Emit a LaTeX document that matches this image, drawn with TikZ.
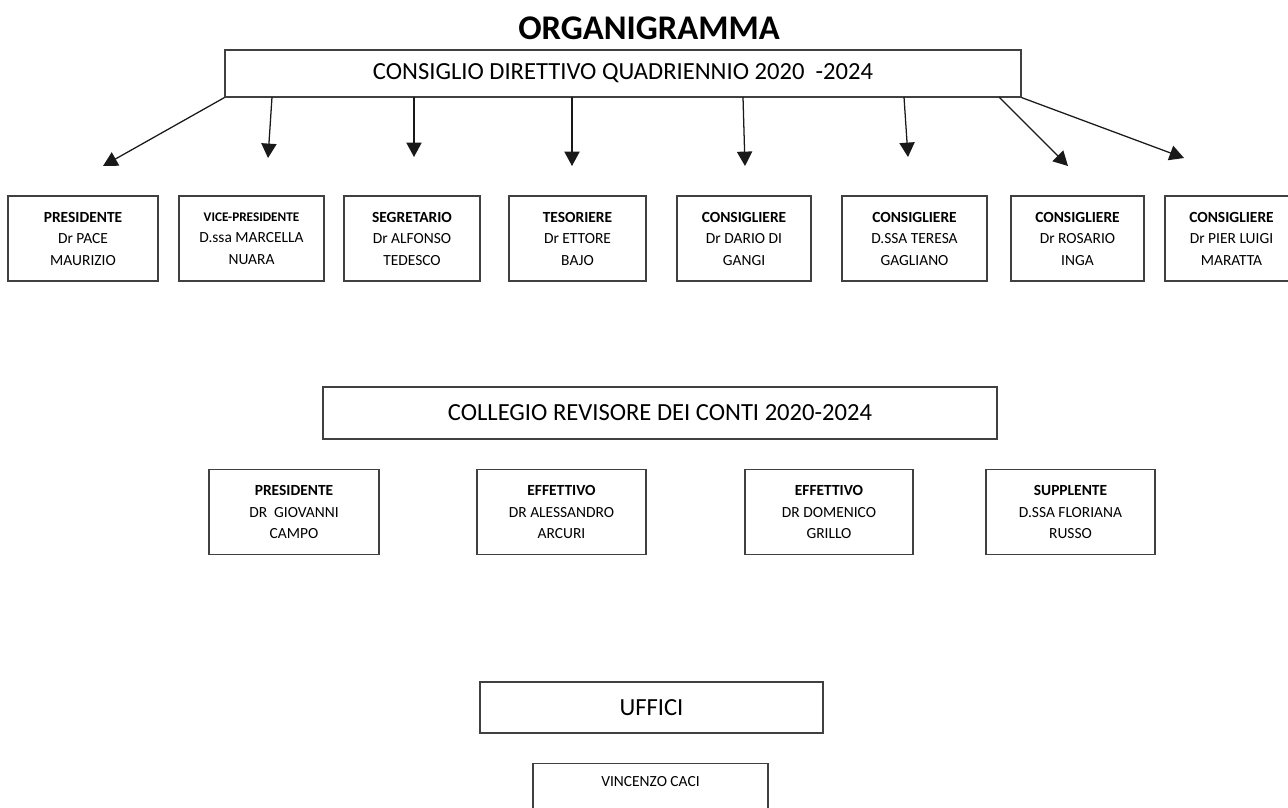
\documentclass[tikz,border=0pt]{standalone}
\usepackage{fontspec}
\setmainfont{Carlito}
\usetikzlibrary{arrows.meta}

\begin{document}
\begin{tikzpicture}
        [
            header/.style = {draw=black!75, shape=rectangle, line width=0.8pt, inner sep=0pt, minimum height=1.3cm, font=\fontsize{17.5}{21}\selectfont},
            member/.style = {draw=black!75, shape=rectangle, line width=0.8pt, inner sep=0pt, minimum height=2.125cm, align=center, font=\fontsize{11}{15.3}\selectfont},
            freccia/.style = {-{Triangle[length=0.36cm,width=0.38cm]}, line width=0.9pt, color=black!90},
        ]

        \useasboundingbox (0,0) rectangle (32.2,-20.2);
        \clip (0,0) rectangle (32.2,-20.2);

        \node[font=\bfseries\fontsize{24.6}{29}\selectfont] (titolo) at (16.225,-0.7) {ORGANIGRAMMA};

        \node[header, minimum width=19.9cm, minimum height=1.175cm] (cd) at (15.575,-1.8375) {\raisebox{-2pt}{CONSIGLIO DIRETTIVO QUADRIENNIO 2020~ -2024}};

        \node[member, minimum width=3.75cm] (cd1) at (2.075,-5.9625)    {\textbf{PRESIDENTE}\\Dr PACE\\MAURIZIO};
        \node[member, minimum width=3.625cm] (cd2) at (6.2875,-5.9625)  {{\fontsize{9.4}{12}\selectfont\textbf{VICE-PRESIDENTE}}\\D.ssa MARCELLA\\NUARA};
        \node[member, minimum width=3.4cm] (cd3) at (10.3,-5.9625)      {\textbf{SEGRETARIO}\\Dr ALFONSO\\TEDESCO};
        \node[member, minimum width=3.425cm] (cd4) at (14.4375,-5.9625) {\textbf{TESORIERE}\\Dr ETTORE\\BAJO};
        \node[member, minimum width=3.35cm] (cd5) at (18.6,-5.9625)     {\textbf{CONSIGLIERE}\\Dr DARIO DI\\GANGI};
        \node[member, minimum width=3.625cm] (cd6) at (22.8625,-5.9625) {\textbf{CONSIGLIERE}\\D.SSA TERESA\\GAGLIANO};
        \node[member, minimum width=3.325cm] (cd7) at (26.9375,-5.9625) {\textbf{CONSIGLIERE}\\Dr ROSARIO\\INGA};
        \node[member, minimum width=3.325cm] (cd8) at (30.7875,-5.9625) {\textbf{CONSIGLIERE}\\Dr PIER LUIGI\\MARATTA};

        \coordinate (a2) at (6.8,-2.425);
        \coordinate (a3) at (10.35,-2.425);
        \coordinate (a4) at (14.3,-2.425);
        \coordinate (a5) at (18.575,-2.425);
        \coordinate (a6) at (22.6,-2.425);
        \coordinate (a7) at (24.975,-2.425);

        \coordinate (t1) at (2.575,-4.15);
        \coordinate (t2) at (6.7,-3.95);
        \coordinate (t3) at (10.35,-3.925);
        \coordinate (t4) at (14.3,-4.15);
        \coordinate (t5) at (18.625,-4.15);
        \coordinate (t6) at (22.7,-3.925);
        \coordinate (t7) at (26.7,-4.15);
        \coordinate (t8) at (29.6,-3.95);

        \draw [freccia] (cd.south west) -- (t1);
        \draw [freccia] (a2) -- (t2);
        \draw [freccia] (a3) -- (t3);
        \draw [freccia] (a4) -- (t4);
        \draw [freccia] (a5) -- (t5);
        \draw [freccia] (a6) -- (t6);
        \draw [freccia] (a7) -- (t7);
        \draw [freccia] (cd.south east) -- (t8);

        \node[header, minimum width=16.85cm] (cr) at (16.5,-10.325) {COLLEGIO REVISORE DEI CONTI 2020-2024};

        \node[member, minimum width=4.25cm] (cr1) at (7.35,-12.8)     {\textbf{PRESIDENTE}\\DR~ GIOVANNI\\CAMPO};
        \node[member, minimum width=4.225cm] (cr2) at (14.0375,-12.8) {\textbf{EFFETTIVO}\\DR ALESSANDRO\\ARCURI};
        \node[member, minimum width=4.2cm] (cr3) at (20.725,-12.8)    {\textbf{EFFETTIVO}\\DR DOMENICO\\GRILLO};
        \node[member, minimum width=4.225cm] (cr4) at (26.7625,-12.8) {\textbf{SUPPLENTE}\\D.SSA FLORIANA\\RUSSO};

        \node[header, minimum width=8.575cm, minimum height=1.275cm] (uff) at (16.2875,-17.6875) {UFFICI};
        \node[member, minimum width=5.875cm, anchor=north] (uff1) at (16.2625,-19.075) {VINCENZO CACI\\\strut\\\strut};
    \end{tikzpicture}
\end{document}
